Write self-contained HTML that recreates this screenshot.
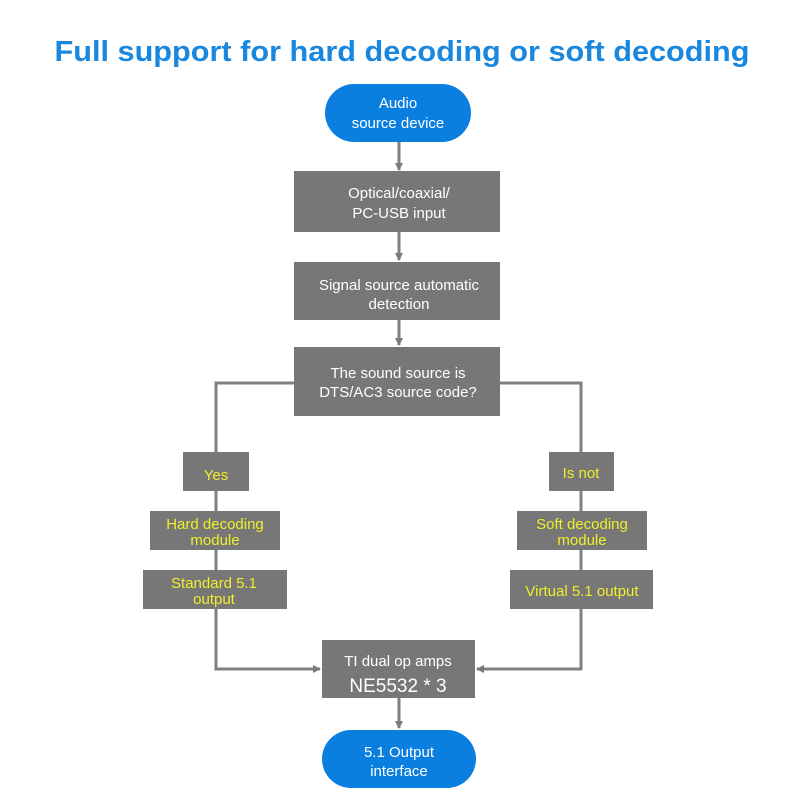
<!DOCTYPE html>
<html><head><meta charset="utf-8"><style>
html,body{margin:0;padding:0;background:#fff;}
svg{display:block;}
text{font-family:"Liberation Sans",sans-serif;}
</style></head><body>
<svg width="800" height="800" viewBox="0 0 800 800" xmlns="http://www.w3.org/2000/svg">
<defs>
<marker id="ar" markerWidth="8" markerHeight="8" refX="7" refY="4" orient="auto" markerUnits="userSpaceOnUse">
<path d="M0,0 L8,4 L0,8 Z" fill="#7a7a7a"/>
</marker>
</defs>
<rect width="800" height="800" fill="#fff"/>
<text x="402" y="61" text-anchor="middle" font-size="29" font-weight="bold" fill="#1a87de" textLength="695" lengthAdjust="spacingAndGlyphs">Full support for hard decoding or soft decoding</text>

<g stroke="#808080" stroke-width="3" fill="none">
<line x1="399" y1="142" x2="399" y2="170" marker-end="url(#ar)"/>
<line x1="399" y1="232" x2="399" y2="260" marker-end="url(#ar)"/>
<line x1="399" y1="320" x2="399" y2="345" marker-end="url(#ar)"/>
<polyline points="294,383 216,383 216,669 320,669" marker-end="url(#ar)"/>
<polyline points="500,383 581,383 581,669 477,669" marker-end="url(#ar)"/>
<line x1="399" y1="698" x2="399" y2="728" marker-end="url(#ar)"/>
</g>

<rect x="325" y="84" width="146" height="58" rx="29" fill="#0a7fe0"/>
<text x="398" y="108" text-anchor="middle" font-size="15" fill="#fff">Audio</text>
<text x="398" y="128" text-anchor="middle" font-size="15" fill="#fff">source device</text>

<g fill="#777">
<rect x="294" y="171" width="206" height="61"/>
<rect x="294" y="262" width="206" height="58"/>
<rect x="294" y="347" width="206" height="69"/>
<rect x="183" y="452" width="66" height="39"/>
<rect x="549" y="452" width="65" height="39"/>
<rect x="150" y="511" width="130" height="39"/>
<rect x="517" y="511" width="130" height="39"/>
<rect x="143" y="570" width="144" height="39"/>
<rect x="510" y="570" width="143" height="39"/>
<rect x="322" y="640" width="153" height="58"/>
</g>

<g fill="#fff" font-size="15" text-anchor="middle">
<text x="399" y="198">Optical/coaxial/</text>
<text x="399" y="218">PC-USB input</text>
<text x="399" y="290">Signal source automatic</text>
<text x="399" y="309">detection</text>
<text x="398" y="378">The sound source is</text>
<text x="398" y="397">DTS/AC3 source code?</text>
<text x="398" y="666">TI dual op amps</text>
<text x="398" y="692" font-size="19">NE5532 * 3</text>
</g>

<g fill="#f2ee2a" font-size="15" text-anchor="middle">
<text x="216" y="480">Yes</text>
<text x="581" y="478">Is not</text>
<text x="215" y="529">Hard decoding</text>
<text x="215" y="545">module</text>
<text x="582" y="529">Soft decoding</text>
<text x="582" y="545">module</text>
<text x="214" y="588">Standard 5.1</text>
<text x="214" y="604">output</text>
<text x="582" y="596">Virtual 5.1 output</text>
</g>

<rect x="322" y="730" width="154" height="58" rx="29" fill="#0a7fe0"/>
<text x="399" y="757" text-anchor="middle" font-size="15" fill="#fff">5.1 Output</text>
<text x="399" y="776" text-anchor="middle" font-size="15" fill="#fff">interface</text>
</svg>
</body></html>
